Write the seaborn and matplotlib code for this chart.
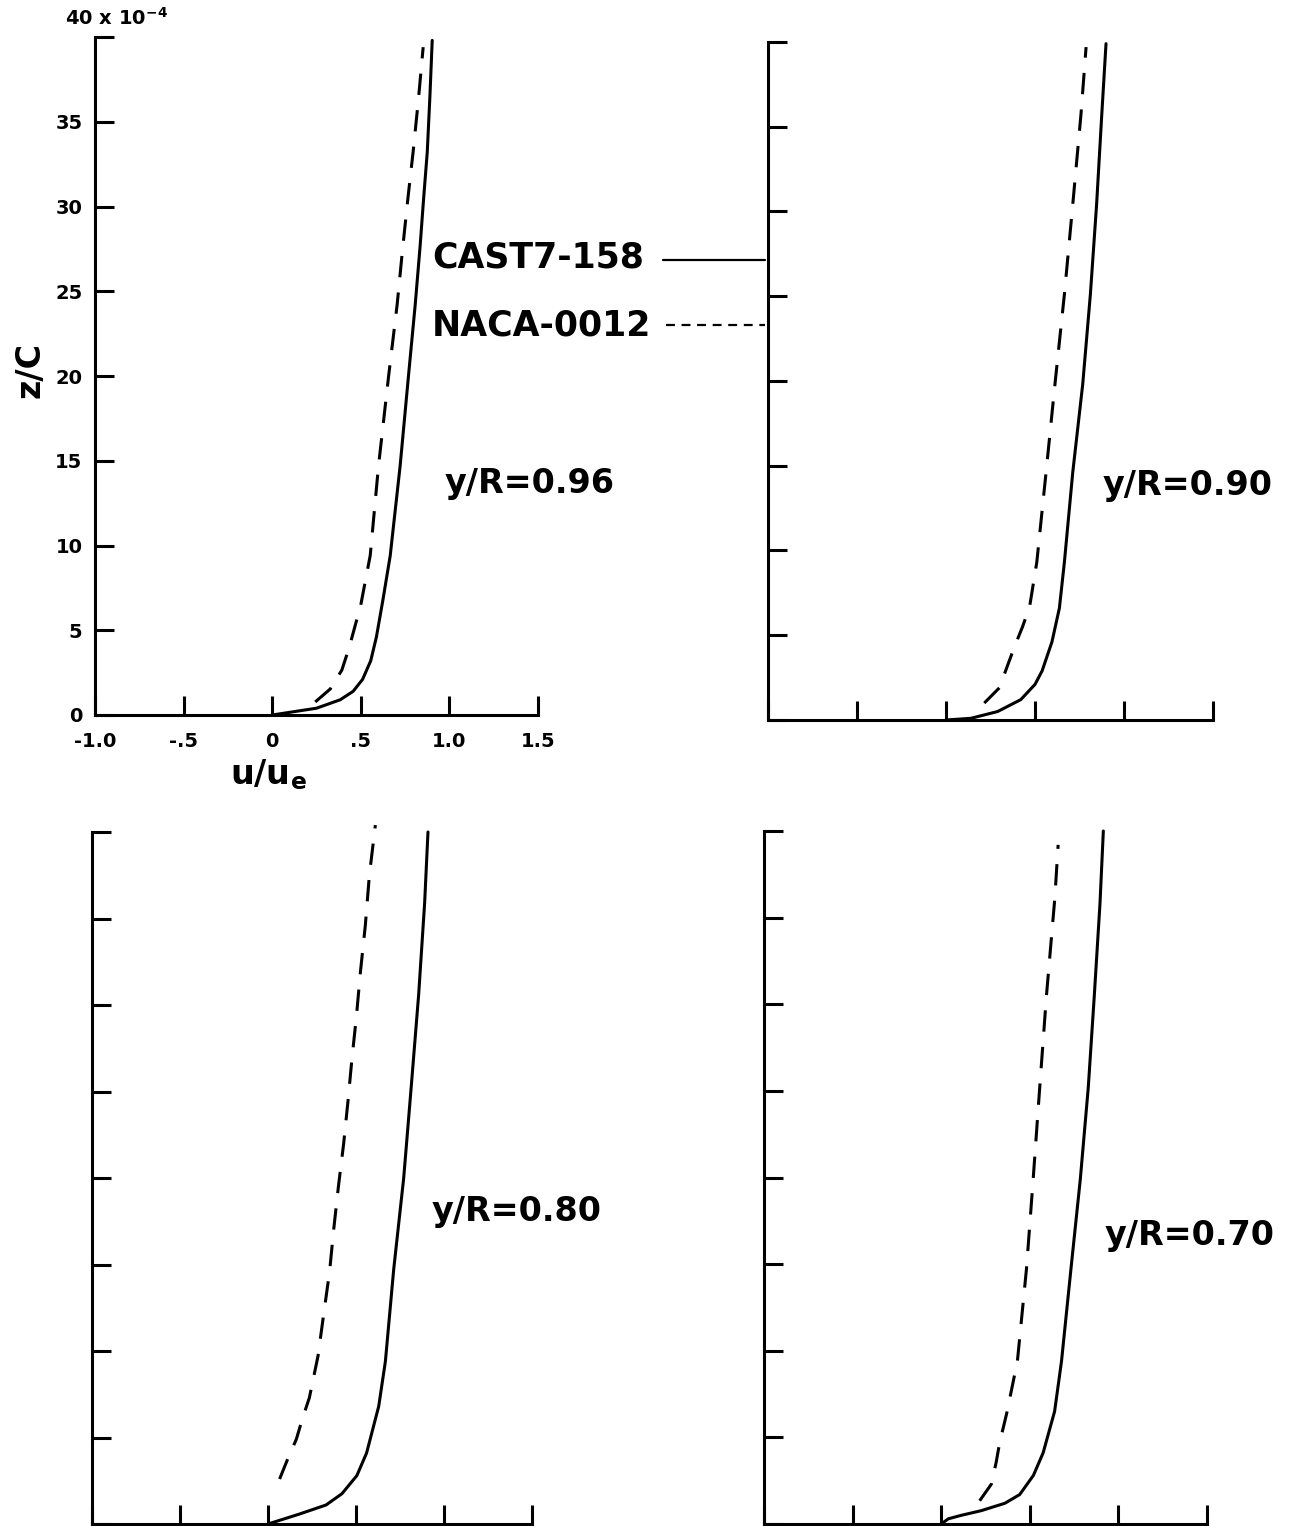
import numpy as np
import pandas as pd
import matplotlib
matplotlib.use("Agg")
import matplotlib.pyplot as plt
from matplotlib.lines import Line2D
import seaborn as sns

# Spanwise stations and airfoils
stations = ["y/R=0.96", "y/R=0.90", "y/R=0.80", "y/R=0.70"]
airfoils = ["CAST7-158", "NACA-0012"]

# Boundary-layer profiles: z/C (x 10^-4) against u/u_e
# y/R = 0.96
z_cast_96 = [0, 0.4, 0.9, 1.4, 2.1, 3.2, 4.6, 6.8, 9.4, 14.7, 20.0, 24.2, 27.7, 30.4, 33.2, 36.5, 39.8]
u_cast_96 = [0, 0.25, 0.384, 0.457, 0.51, 0.556, 0.588, 0.625, 0.666, 0.722, 0.769, 0.807, 0.835, 0.854, 0.875, 0.89, 0.903]
z_naca_96 = [0.77, 1.53, 2.65, 4.0, 6.5, 9.4, 14.7, 20.0, 24.2, 27.4, 30.4, 33.2, 36.3, 39.4]
u_naca_96 = [0.243, 0.327, 0.393, 0.435, 0.50, 0.553, 0.60, 0.657, 0.705, 0.735, 0.765, 0.795, 0.825, 0.852]

# y/R = 0.90
z_cast_90 = [0, 0.1, 0.5, 1.2, 2.1, 2.9, 4.6, 6.6, 9.3, 14.6, 19.8, 25.1, 30.4, 35.7, 39.9]
u_cast_90 = [0, 0.14, 0.29, 0.42, 0.50, 0.54, 0.595, 0.637, 0.665, 0.712, 0.768, 0.811, 0.846, 0.875, 0.899]
z_naca_90 = [1.0, 1.9, 3.25, 4.3, 5.5, 6.7, 9.3, 14.6, 19.8, 25.1, 30.4, 35.7, 39.7]
u_naca_90 = [0.215, 0.30, 0.347, 0.384, 0.43, 0.47, 0.51, 0.562, 0.612, 0.665, 0.712, 0.758, 0.787]

# y/R = 0.80
z_cast_80 = [0, 0.58, 1.1, 1.75, 2.8, 4.1, 6.8, 9.4, 14.7, 20.0, 25.3, 30.6, 35.9, 40.0]
u_cast_80 = [0, 0.18, 0.33, 0.42, 0.505, 0.56, 0.629, 0.667, 0.714, 0.771, 0.814, 0.856, 0.890, 0.909]
z_naca_80 = [2.6, 3.66, 4.9, 6.0, 7.3, 9.7, 12.1, 14.6, 17.0, 19.5, 22.0, 24.5, 26.9, 29.3, 31.9, 34.6, 37.5, 40.4]
u_naca_80 = [0.066, 0.108, 0.161, 0.193, 0.235, 0.284, 0.316, 0.35, 0.373, 0.40, 0.43, 0.455, 0.477, 0.502, 0.525, 0.553, 0.576, 0.61]

# y/R = 0.70
z_cast_70 = [0, 0.3, 0.5, 0.77, 1.2, 1.7, 2.8, 4.1, 6.5, 9.4, 14.7, 19.9, 25.2, 30.5, 35.8, 40.0]
u_cast_70 = [0, 0.04, 0.113, 0.226, 0.36, 0.443, 0.52, 0.575, 0.64, 0.679, 0.732, 0.785, 0.830, 0.864, 0.896, 0.915]
z_naca_70 = [1.34, 2.3, 3.55, 4.7, 6.4, 9.4, 14.7, 19.9, 25.2, 30.5, 36.1, 39.2]
u_naca_70 = [0.217, 0.283, 0.31, 0.33, 0.37, 0.43, 0.481, 0.519, 0.556, 0.594, 0.641, 0.66]

# Axis ticks
x_ticks = [-1.0, -0.5, 0.0, 0.5, 1.0, 1.5]
x_tick_labels = ["-1.0", "-.5", "0", ".5", "1.0", "1.5"]
y_ticks = [0, 5, 10, 15, 20, 25, 30, 35, 40]
y_tick_labels = ["0", "5", "10", "15", "20", "25", "30", "35", ""]

profiles = {
    "y/R=0.96": [(z_cast_96, u_cast_96), (z_naca_96, u_naca_96)],
    "y/R=0.90": [(z_cast_90, u_cast_90), (z_naca_90, u_naca_90)],
    "y/R=0.80": [(z_cast_80, u_cast_80), (z_naca_80, u_naca_80)],
    "y/R=0.70": [(z_cast_70, u_cast_70), (z_naca_70, u_naca_70)],
}

rows = []
for st in stations:
    for foil, (zz, uu) in zip(airfoils, profiles[st]):
        for i, (zv, uv) in enumerate(zip(zz, uu)):
            rows.append({"station": st, "airfoil": foil, "order": i, "z": zv, "u": uv})
df = pd.DataFrame(rows)

sns.set_style("white")
plt.rcParams["font.family"] = ["DejaVu Sans"]
plt.rcParams["font.weight"] = "bold"
plt.rcParams["mathtext.fontset"] = "dejavusans"
plt.rcParams["mathtext.default"] = "bf"
plt.rcParams["text.color"] = "black"
plt.rcParams["xtick.color"] = "black"
plt.rcParams["ytick.color"] = "black"
plt.rcParams["axes.labelcolor"] = "black"

W, H = 1295, 1526
fig = plt.figure(figsize=(W / 100, H / 100), dpi=100)
fig.patch.set_facecolor("white")

def box(left, right, top, bottom):
    return [left / W, 1 - bottom / H, (right - left) / W, (bottom - top) / H]

boxes = {
    "y/R=0.96": box(95, 538, 37, 715),
    "y/R=0.90": box(768, 1213, 42, 720),
    "y/R=0.80": box(92, 532, 832, 1524),
    "y/R=0.70": box(764, 1207, 831, 1524),
}

label_pos = {
    "y/R=0.96": (445, 483),
    "y/R=0.90": (1103, 485),
    "y/R=0.80": (432, 1212),
    "y/R=0.70": (1105, 1235),
}

LW = 2.2
for k, st in enumerate(stations):
    ax = fig.add_axes(boxes[st])
    ax.set_facecolor("white")
    sub = df[df["station"] == st].sort_values(["airfoil", "order"])
    sns.lineplot(data=sub, x="u", y="z", style="airfoil", units="airfoil",
                 dashes={"CAST7-158": "", "NACA-0012": (7, 5)},
                 sort=False, estimator=None, color="black", lw=LW,
                 legend=False, ax=ax)
    for ln in ax.lines:
        ln.set_clip_on(False)
        ln.set_solid_capstyle("round")
    ax.set_xlim(-1.0, 1.5)
    ax.set_ylim(0, 40)
    ax.set_xlabel("")
    ax.set_ylabel("")
    for s in ["top", "right"]:
        ax.spines[s].set_visible(False)
    for s in ["left", "bottom"]:
        ax.spines[s].set_linewidth(LW)
        ax.spines[s].set_color("black")
    ax.set_xticks(x_ticks)
    ax.set_yticks(y_ticks)
    ax.tick_params(axis="both", which="major", direction="in", length=14,
                   width=LW, color="black", bottom=True, left=True,
                   top=False, right=False, labelcolor="black")
    ax.tick_params(axis="x", pad=12)
    ax.tick_params(axis="y", pad=9)
    if k == 0:
        ax.set_xticklabels(x_tick_labels, fontsize=14, fontweight="bold")
        ax.set_yticklabels(y_tick_labels, fontsize=14, fontweight="bold")
    else:
        ax.set_xticklabels([])
        ax.set_yticklabels([])
    lx, ly = label_pos[st]
    fig.text(lx / W, 1 - ly / H, st, fontsize=24, fontweight="bold",
             ha="left", va="center", color="black")

# Axis annotations on the first panel
fig.text(65 / W, 1 - 18 / H, r"40 x 10$^{-4}$", fontsize=14, fontweight="bold",
         ha="left", va="center", color="black")
fig.text(30 / W, 1 - 370 / H, "z/C", fontsize=24, fontweight="bold",
         rotation=90, ha="center", va="center", color="black")
fig.text(268 / W, 1 - 775 / H, r"u/u$_{e}$", fontsize=24, fontweight="bold",
         ha="center", va="center", color="black")

# Key
fig.text(432 / W, 1 - 258 / H, "CAST7-158", fontsize=25, fontweight="bold",
         ha="left", va="center", color="black")
fig.text(432 / W, 1 - 325 / H, "NACA-0012", fontsize=25, fontweight="bold",
         ha="left", va="center", color="black")
fig.add_artist(Line2D([663 / W, 765 / W], [1 - 260 / H, 1 - 260 / H],
                      color="black", lw=1.6, transform=fig.transFigure))
fig.add_artist(Line2D([666 / W, 765 / W], [1 - 325 / H, 1 - 325 / H],
                      color="black", lw=1.6, linestyle=(0, (4, 3)),
                      transform=fig.transFigure))

fig.savefig("out.png", dpi=100, facecolor="white")
